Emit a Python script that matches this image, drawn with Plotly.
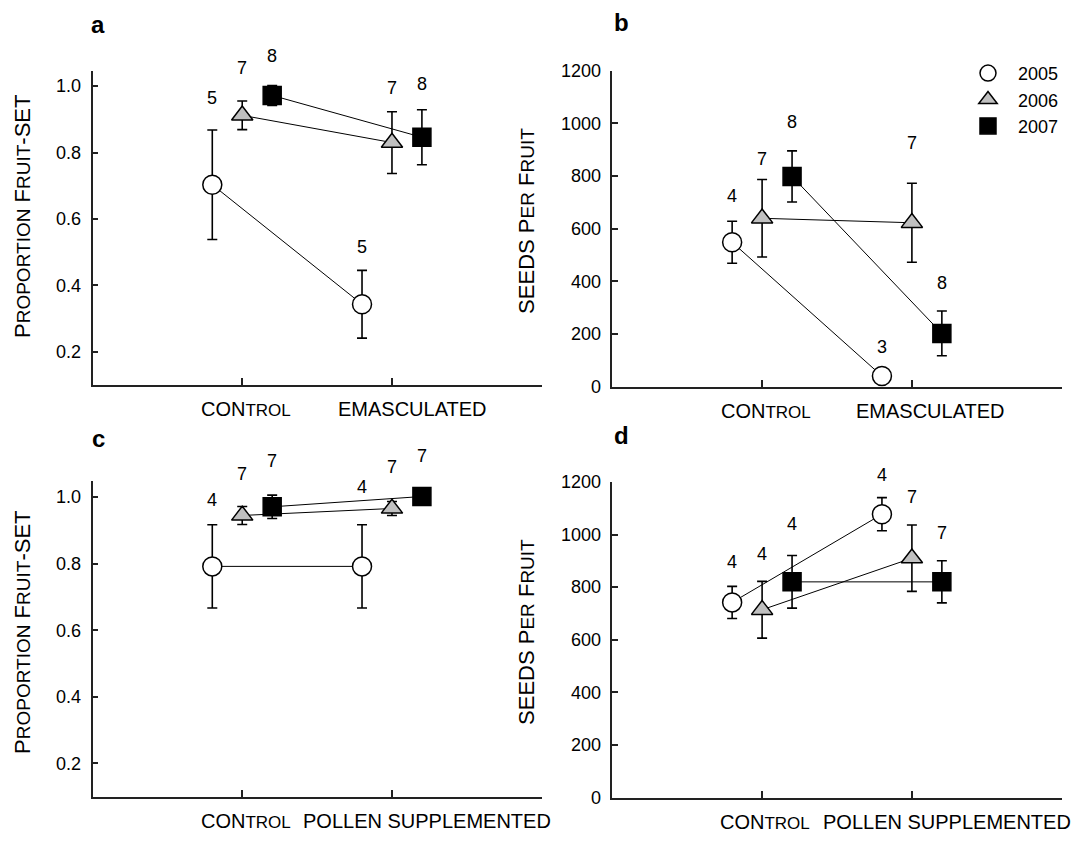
import plotly.graph_objects as go

# ---------------- data ----------------
years = ["2005", "2006", "2007"]
treat_ab = ["CONTROL", "EMASCULATED"]
treat_cd = ["CONTROL", "POLLEN SUPPLEMENTED"]
cat_pos = [1, 2]

# panel a: proportion fruit-set (control, emasculated)
a_2005_mean = [0.703, 0.343]
a_2005_err = [0.165, 0.102]
a_2005_n = [5, 5]
a_2006_mean = [0.912, 0.830]
a_2006_err = [0.043, 0.093]
a_2006_n = [7, 7]
a_2007_mean = [0.972, 0.846]
a_2007_err = [0.030, 0.083]
a_2007_n = [8, 8]

# panel b: seeds per fruit (control, emasculated)
b_2005_mean = [548, 40]
b_2005_err = [80, 15]
b_2005_n = [4, 3]
b_2006_mean = [639, 622]
b_2006_err = [147, 150]
b_2006_n = [7, 7]
b_2007_mean = [798, 202]
b_2007_err = [97, 85]
b_2007_n = [8, 8]

# panel c: proportion fruit-set (control, pollen supplemented)
c_2005_mean = [0.792, 0.792]
c_2005_err = [0.125, 0.125]
c_2005_n = [4, 4]
c_2006_mean = [0.945, 0.966]
c_2006_err = [0.027, 0.021]
c_2006_n = [7, 7]
c_2007_mean = [0.971, 1.002]
c_2007_err = [0.035, 0.0]
c_2007_n = [7, 7]

# panel d: seeds per fruit (control, pollen supplemented)
d_2005_mean = [742, 1077]
d_2005_err = [61, 63]
d_2005_n = [4, 4]
d_2006_mean = [714, 910]
d_2006_err = [108, 126]
d_2006_n = [4, 7]
d_2007_mean = [820, 820]
d_2007_err = [100, 80]
d_2007_n = [4, 7]

# ---------------- style ----------------
FONT = "Liberation Sans, Arial, sans-serif"
offsets = [-0.2, 0.0, 0.2]
symbols = ["circle", "triangle-up", "square"]
fills = ["white", "#c0c0c0", "black"]
msizes = [19, 18.5, 18]

# label vertical offsets (px) above error bar tops
a_shift = [[32, 23], [33, 23.5], [29, 26]]
b_shift = [[25, 25], [21, 40], [29, 28]]
c_shift = [[24.5, 38], [32, 34], [34, 41]]
d_shift = [[24.5, 23], [27, 28], [32, 28]]

panels = [
    ("x", "y", [a_2005_mean, a_2006_mean, a_2007_mean], [a_2005_err, a_2006_err, a_2007_err],
     [a_2005_n, a_2006_n, a_2007_n], a_shift),
    ("x2", "y2", [b_2005_mean, b_2006_mean, b_2007_mean], [b_2005_err, b_2006_err, b_2007_err],
     [b_2005_n, b_2006_n, b_2007_n], b_shift),
    ("x3", "y3", [c_2005_mean, c_2006_mean, c_2007_mean], [c_2005_err, c_2006_err, c_2007_err],
     [c_2005_n, c_2006_n, c_2007_n], c_shift),
    ("x4", "y4", [d_2005_mean, d_2006_mean, d_2007_mean], [d_2005_err, d_2006_err, d_2007_err],
     [d_2005_n, d_2006_n, d_2007_n], d_shift),
]

fig = go.Figure()
annotations = []

for xa, ya, means, errs, ns, shifts in panels:
    for i, yr in enumerate(years):
        xs = [p + offsets[i] for p in cat_pos]
        fig.add_trace(go.Scatter(
            x=xs, y=means[i], xaxis=xa, yaxis=ya, mode="lines+markers",
            line=dict(color="black", width=1),
            marker=dict(symbol=symbols[i], size=msizes[i], color=fills[i],
                        line=dict(color="black", width=1.5)),
            error_y=dict(type="data", array=errs[i], color="black", thickness=1.6, width=5),
            showlegend=False, cliponaxis=False, hoverinfo="skip"))
        for j in range(2):
            annotations.append(dict(
                x=xs[j], y=means[i][j] + errs[i][j], xref=xa, yref=ya,
                text=str(ns[i][j]), showarrow=False, yshift=shifts[i][j],
                xanchor="center", yanchor="middle",
                font=dict(family=FONT, size=18, color="black")))

# legend-only traces
for i, yr in enumerate(years):
    fig.add_trace(go.Scatter(
        x=[None], y=[None], xaxis="x2", yaxis="y2", mode="markers", name=yr,
        marker=dict(symbol=symbols[i], size=18, color=fills[i],
                    line=dict(color="black", width=1.5)),
        showlegend=True))

W, H = 1082, 846
xl = [92.5 / W, 541.7 / W]
xr = [612.3 / W, 1061.7 / W]
ya_dom = [1 - 384 / H, 1 - 62 / H]
yb_dom = [1 - 385.7 / H, 1 - 62 / H]
yc_dom = [1 - 805.7 / H, 1 - 482.6 / H]
yd_dom = [1 - 806.7 / H, 1 - 483.3 / H]

def xaxis(dom, anchor):
    return dict(domain=dom, anchor=anchor, range=[0, 3], showgrid=False, zeroline=False,
                showline=True, linecolor="#222", linewidth=1.5,
                ticks="inside", ticklen=7, tickwidth=1.5, tickcolor="#222",
                tickvals=cat_pos, showticklabels=False, fixedrange=True)

prop_ticks = [0.2, 0.4, 0.6, 0.8, 1.0]
seed_ticks = [0, 200, 400, 600, 800, 1000, 1200]

def yaxis(dom, anchor, rng, tv, fmt):
    return dict(domain=dom, anchor=anchor, range=rng, showgrid=False, zeroline=False,
                showline=True, linecolor="#222", linewidth=1.5,
                ticks="inside", ticklen=6, tickwidth=1.5, tickcolor="#222",
                tickvals=tv, ticktext=[fmt.format(v) for v in tv],
                tickfont=dict(family=FONT, size=18, color="black"),
                ticklabelstandoff=6, fixedrange=True)

fig.update_layout(
    xaxis=xaxis(xl, "y"), yaxis=yaxis(ya_dom, "x", [0.1, 1.047], prop_ticks, "{:.1f}"),
    xaxis2=xaxis(xr, "y2"), yaxis2=yaxis(yb_dom, "x2", [0, 1200], seed_ticks, "{:d}"),
    xaxis3=xaxis(xl, "y3"), yaxis3=yaxis(yc_dom, "x3", [0.1, 1.048], prop_ticks, "{:.1f}"),
    xaxis4=xaxis(xr, "y4"), yaxis4=yaxis(yd_dom, "x4", [0, 1200], seed_ticks, "{:d}"),
)

# x category labels
lab_font = dict(family=FONT, size=20, color="black")
control_txt = "CON<span style='font-size:17px'>TROL</span>"
xlabels = [
    ("x", "y", 1.025, control_txt, 384), ("x", "y", 2.137, "EMASCULATED", 384),
    ("x2", "y2", 1.024, control_txt, 385.7), ("x2", "y2", 2.127, "EMASCULATED", 385.7),
    ("x3", "y3", 1.025, control_txt, 805.7), ("x3", "y3", 2.235, "POLLEN SUPPLEMENTED", 805.7),
    ("x4", "y4", 1.02, control_txt, 806.7), ("x4", "y4", 2.235, "POLLEN SUPPLEMENTED", 806.7),
]
for xa, ya, xv, txt, ypix in xlabels:
    annotations.append(dict(x=xv, xref=xa, y=1 - (ypix + 24.5) / H, yref="paper",
                            text=txt, showarrow=False, xanchor="center", yanchor="middle",
                            font=lab_font))

# y axis titles
sp = "<span style='font-size:{}px'>{}</span>"
prop_title = "P" + sp.format(19, "ROPORTION") + " F" + sp.format(19, "RUIT") + "-SET"
seed_title = "SEEDS P" + sp.format(19, "ER") + " F" + sp.format(19, "RUIT")
ytitles = [(23, 212, prop_title, 22), (527, 216, seed_title, 22),
           (23, 638, prop_title, 22), (527, 637, seed_title, 22)]
for xp, yp, txt, fs in ytitles:
    annotations.append(dict(x=xp / W, y=1 - yp / H, xref="paper", yref="paper", text=txt,
                            textangle=-90, showarrow=False, xanchor="center", yanchor="middle",
                            font=dict(family=FONT, size=fs, color="black")))

# panel letters
for xp, yp, t in [(98, 15, "a"), (621, 13, "b"), (98, 439, "c"), (621, 436, "d")]:
    annotations.append(dict(x=xp / W, y=1 - yp / H, xref="paper", yref="paper",
                            text="<b>" + t + "</b>", showarrow=False,
                            xanchor="center", yanchor="middle",
                            font=dict(family=FONT, size=24, color="black")))

fig.update_layout(
    annotations=annotations,
    width=W, height=H, autosize=False,
    margin=dict(l=0, r=0, t=0, b=0),
    paper_bgcolor="white", plot_bgcolor="white",
    font=dict(family=FONT, color="black"),
    showlegend=True,
    legend=dict(x=958 / W, y=1 - 46 / H, xanchor="left", yanchor="top",
                bgcolor="rgba(0,0,0,0)", borderwidth=0,
                font=dict(family=FONT, size=18, color="black"),
                itemwidth=50, tracegroupgap=0),
)

fig.write_html("out.html", post_script="document.body.style.margin='0';",
               config={"displayModeBar": False})
